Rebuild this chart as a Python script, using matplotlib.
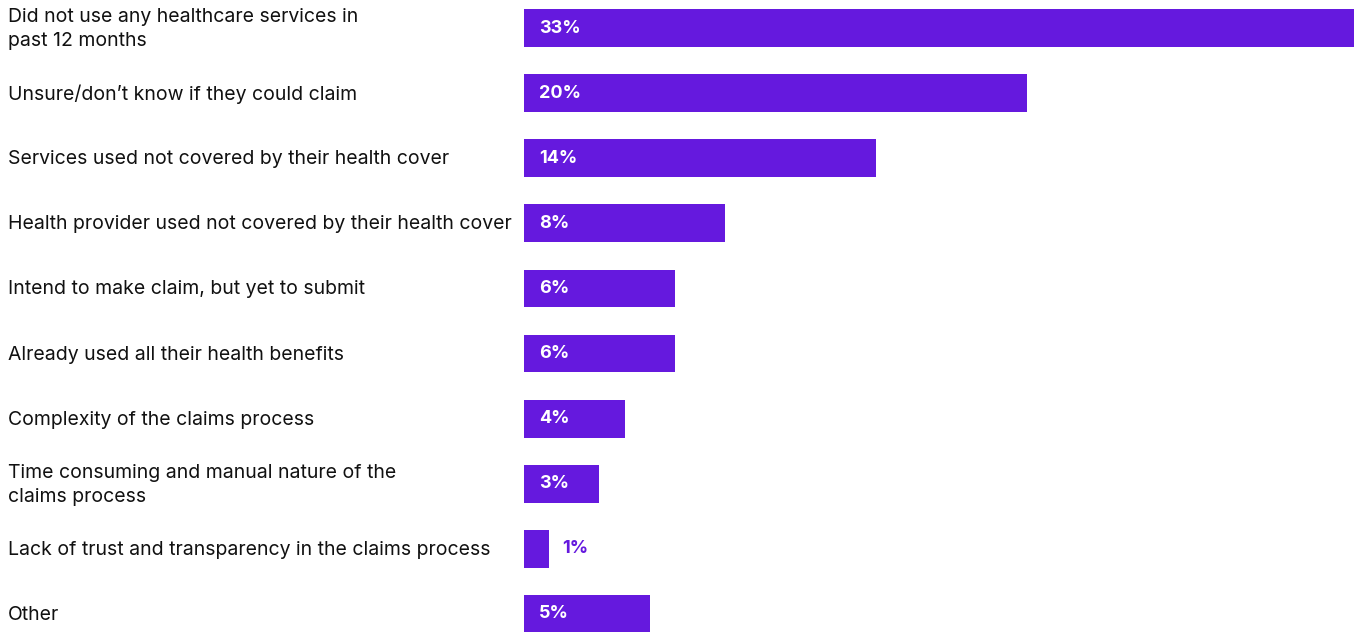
import matplotlib
matplotlib.use('Agg')
import matplotlib.pyplot as plt
from matplotlib.transforms import blended_transform_factory

labels = ['Did not use any healthcare services in\npast 12 months',
          'Unsure/don\u2019t know if they could claim',
          'Services used not covered by their health cover',
          'Health provider used not covered by their health cover',
          'Intend to make claim, but yet to submit',
          'Already used all their health benefits',
          'Complexity of the claims process',
          'Time consuming and manual nature of the\nclaims process',
          'Lack of trust and transparency in the claims process',
          'Other']
values = [33, 20, 14, 8, 6, 6, 4, 3, 1, 5]

purple = '#6519DE'

plt.rcParams['font.family'] = ['Inter', 'DejaVu Sans']

fig = plt.figure(figsize=(13.56, 6.32), dpi=100)
ax = fig.add_axes([524 / 1356, 1 - 633.5 / 632, 830 / 1356, 625 / 632])

pos = list(range(len(values)))
ax.barh(pos, values, height=0.58, color=purple)
ax.set_xlim(0, 33)
ax.set_ylim(9.3, -0.3)
ax.axis('off')

trans = blended_transform_factory(fig.transFigure, ax.transData)
for i, (lab, v) in enumerate(zip(labels, values)):
    fig.text(8 / 1356, i + 0.015, lab, transform=trans, ha='left', va='center',
             fontsize=14, color='#111111', linespacing=1.4)
    if v >= 2:
        ax.annotate(f'{v}%', (0, i), xytext=(15, 0), textcoords='offset pixels',
                    ha='left', va='center', color='white', fontsize=13,
                    fontweight='bold')
    else:
        ax.annotate(f'{v}%', (v, i), xytext=(13, 0), textcoords='offset pixels',
                    ha='left', va='center', color=purple, fontsize=13,
                    fontweight='bold')

fig.savefig('out.png', dpi=100)
